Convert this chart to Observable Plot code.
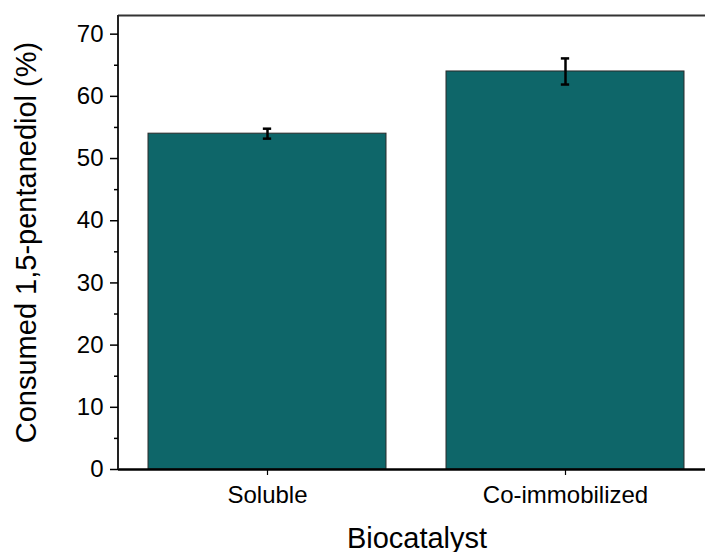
<!DOCTYPE html>
<html>
<head>
<meta charset="utf-8">
<script src="https://cdn.jsdelivr.net/npm/d3@7"></script>
<script src="https://cdn.jsdelivr.net/npm/@observablehq/plot@0.6"></script>
<style>
  html, body { margin: 0; padding: 0; background: #fff; }
  #chart svg { display: block; }
</style>
</head>
<body>
<div id="chart"></div>
<script>
const categories = ["Soluble", "Co-immobilized"];
const values = [54, 64];
const errors = [0.8, 2.1];
const majorTicks = [0, 10, 20, 30, 40, 50, 60, 70];
const minorTicks = [5, 15, 25, 35, 45, 55, 65];
const yTitle = "Consumed 1,5-pentanediol (%)";
const xTitle = "Biocatalyst";

const data = categories.map((c, i) => ({cat: c, value: values[i], lo: values[i] - errors[i], hi: values[i] + errors[i]}));

const W = 705, H = 552;
const mL = 118, mT = 15, mB = 83, mR = 0;
const xRange = [148, 685];
const bw = (xRange[1] - xRange[0]) / (2 - 0.2) * 0.8;
const capInset = (bw - 9) / 2;

const leftLine = (index, scales, values, dims) => {
  const l = document.createElementNS("http://www.w3.org/2000/svg", "line");
  l.setAttribute("x1", dims.marginLeft);
  l.setAttribute("x2", dims.marginLeft);
  l.setAttribute("y1", dims.marginTop);
  l.setAttribute("y2", dims.height - dims.marginBottom);
  l.setAttribute("stroke", "#222");
  l.setAttribute("stroke-width", 2);
  return l;
};

const chart = Plot.plot({
  width: W,
  height: H,
  marginLeft: mL,
  marginTop: mT,
  marginBottom: mB,
  marginRight: mR,
  style: {fontFamily: "'Liberation Sans', Arial, sans-serif", fontSize: "24px", color: "#000", background: "#fff"},
  x: {type: "band", domain: categories, range: xRange, paddingInner: 0.2, paddingOuter: 0, align: 0.5, axis: null, label: null},
  y: {domain: [0, 73], axis: null, label: null},
  marks: [
    Plot.barY(data, {x: "cat", y: "value", fill: "#0e6669", stroke: "#2a2a2a", strokeWidth: 1}),
    Plot.ruleX(data, {x: "cat", y1: "lo", y2: "hi", stroke: "#000", strokeWidth: 2.5}),
    Plot.tickY(data, {x: "cat", y: "lo", stroke: "#000", strokeWidth: 2.5, insetLeft: capInset, insetRight: capInset}),
    Plot.tickY(data, {x: "cat", y: "hi", stroke: "#000", strokeWidth: 2.5, insetLeft: capInset, insetRight: capInset}),
    Plot.ruleY([73], {stroke: "#333", strokeWidth: 2}),
    Plot.ruleY([0], {stroke: "#000", strokeWidth: 2.5}),
    leftLine,
    Plot.axisY({ticks: majorTicks, tickSize: 8, tickPadding: 7, tickFormat: d => String(d), strokeWidth: 1.5, fontSize: 24, label: null}),
    Plot.axisY({ticks: minorTicks, tickSize: 4, tickFormat: () => "", strokeWidth: 1.5, label: null}),
    Plot.axisX({tickSize: 6, tickPadding: 10, strokeWidth: 1.2, fontSize: 24, label: null}),
    Plot.text([yTitle], {frameAnchor: "left", textAnchor: "middle", rotate: -90, dx: -92, fontSize: 29, fill: "#000"}),
    Plot.text([xTitle], {frameAnchor: "bottom", dx: 5, dy: 78, fontSize: 29, fill: "#000"})
  ]
});
document.getElementById("chart").appendChild(chart);
</script>
</body>
</html>
